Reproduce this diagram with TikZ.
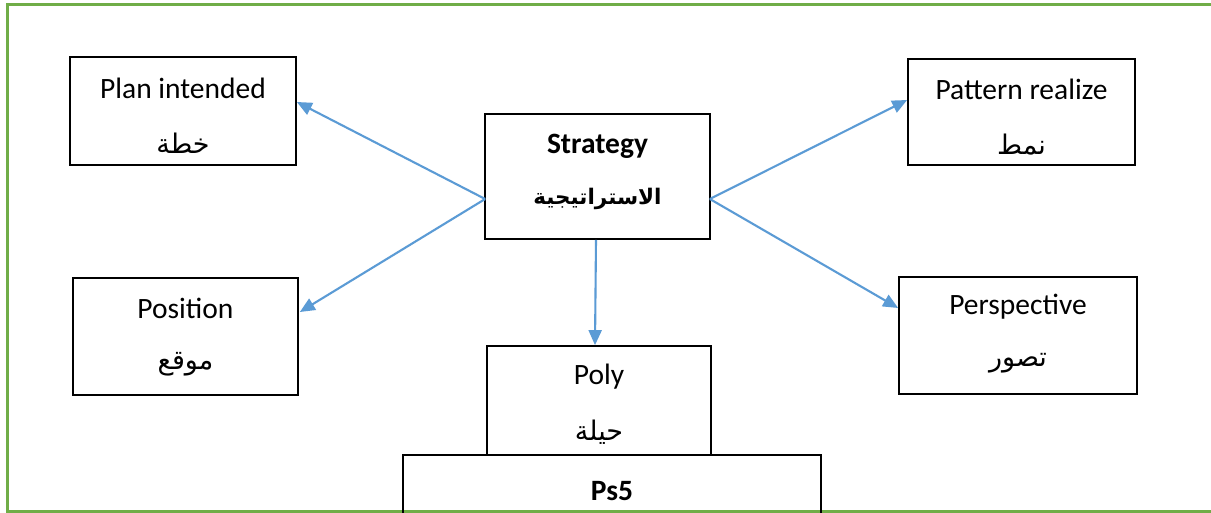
\documentclass[tikz,border=0pt]{standalone}
\usepackage{fontspec}
\setmainfont{Carlito}
\newfontfamily\arabicfont[Script=Arabic]{DejaVu Sans}
\TeXXeTstate=1
\usetikzlibrary{arrows.meta}
\definecolor{frame}{HTML}{70AD47}
\definecolor{arrowblue}{HTML}{5B9BD5}
\tikzset{
  box/.style={draw=black, line width=1.7pt, rectangle, inner sep=0pt},
  lat/.style={font=\fontsize{29.5}{31}\selectfont, inner sep=0pt, anchor=center},
  latb/.style={font=\bfseries\fontsize{29.5}{31}\selectfont, inner sep=0pt, anchor=center},
  ara/.style={font=\arabicfont\fontsize{27}{30}\selectfont, inner sep=0pt, anchor=center},
  arab/.style={font=\arabicfont\bfseries\fontsize{21.5}{24}\selectfont, inner sep=0pt, anchor=center},
  conn/.style={draw=arrowblue, line width=2.1pt, -{Triangle[length=15pt,width=13pt]}}
}
\begin{document}
\begin{tikzpicture}[x=1pt,y=-1pt]
\useasboundingbox (0,0) rectangle (1211,513);
\clip (0,0) rectangle (1211,513);
\fill[white] (0,0) rectangle (1211,513);
% frame
\draw[frame, line width=3pt] (1215,5) -- (7,5) -- (7,511) -- (1215,511);
% boxes
\node[box, minimum width=226pt, minimum height=108pt] (plan) at (183,111) {};
\node[box, minimum width=227pt, minimum height=106pt] (pattern) at (1021.5,112) {};
\node[box, minimum width=225pt, minimum height=125pt] (strategy) at (597.5,176.5) {};
\node[box, minimum width=225pt, minimum height=117pt] (position) at (185.5,336.5) {};
\node[box, minimum width=238pt, minimum height=117pt] (perspective) at (1018,335.5) {};
\node[box, minimum width=418pt, minimum height=100pt] (ps5) at (612,505) {};
\node[box, fill=white, minimum width=224pt, minimum height=109pt] (poly) at (599,400.5) {};
% texts
\node[lat] (planT) at (183,88) {Plan intended};
\node[ara] (planA) at (183,143) {\beginR خطة\endR};
\node[lat] (patternT) at (1021.5,89) {Pattern realize};
\node[ara] (patternA) at (1021.5,145) {\beginR نمط\endR};
\node[latb] (strategyT) at (597.5,146) {Strategy};
\node[arab] (strategyA) at (597.5,199) {\beginR الاستراتيجية\endR};
\node[lat] (positionT) at (185.5,308) {Position};
\node[ara] (positionA) at (185.5,364) {\beginR موقع\endR};
\node[lat] (perspectiveT) at (1018,307) {Perspective};
\node[ara] (perspectiveA) at (1018,363) {\beginR تصور\endR};
\node[lat] (polyT) at (599,377) {Poly};
\node[ara] (polyA) at (599,432) {\beginR حيلة\endR};
\node[latb] (ps5T) at (612,491) {Ps5};
% connectors
\coordinate (sl) at ([xshift=1pt,yshift=-22.5pt]strategy.west);
\coordinate (sr) at ([xshift=-1pt,yshift=-22.5pt]strategy.east);
\draw[conn] (sl) -- ([yshift=9pt]plan.east);
\draw[conn] (sl) -- ([yshift=24.5pt,xshift=1pt]position.east);
\draw[conn] (sr) -- ([yshift=12pt]pattern.west);
\draw[conn] (sr) -- ([yshift=27.5pt]perspective.west);
\draw[conn] ([xshift=-1.5pt]strategy.south) -- ([xshift=-4pt]poly.north);
\end{tikzpicture}
\end{document}
